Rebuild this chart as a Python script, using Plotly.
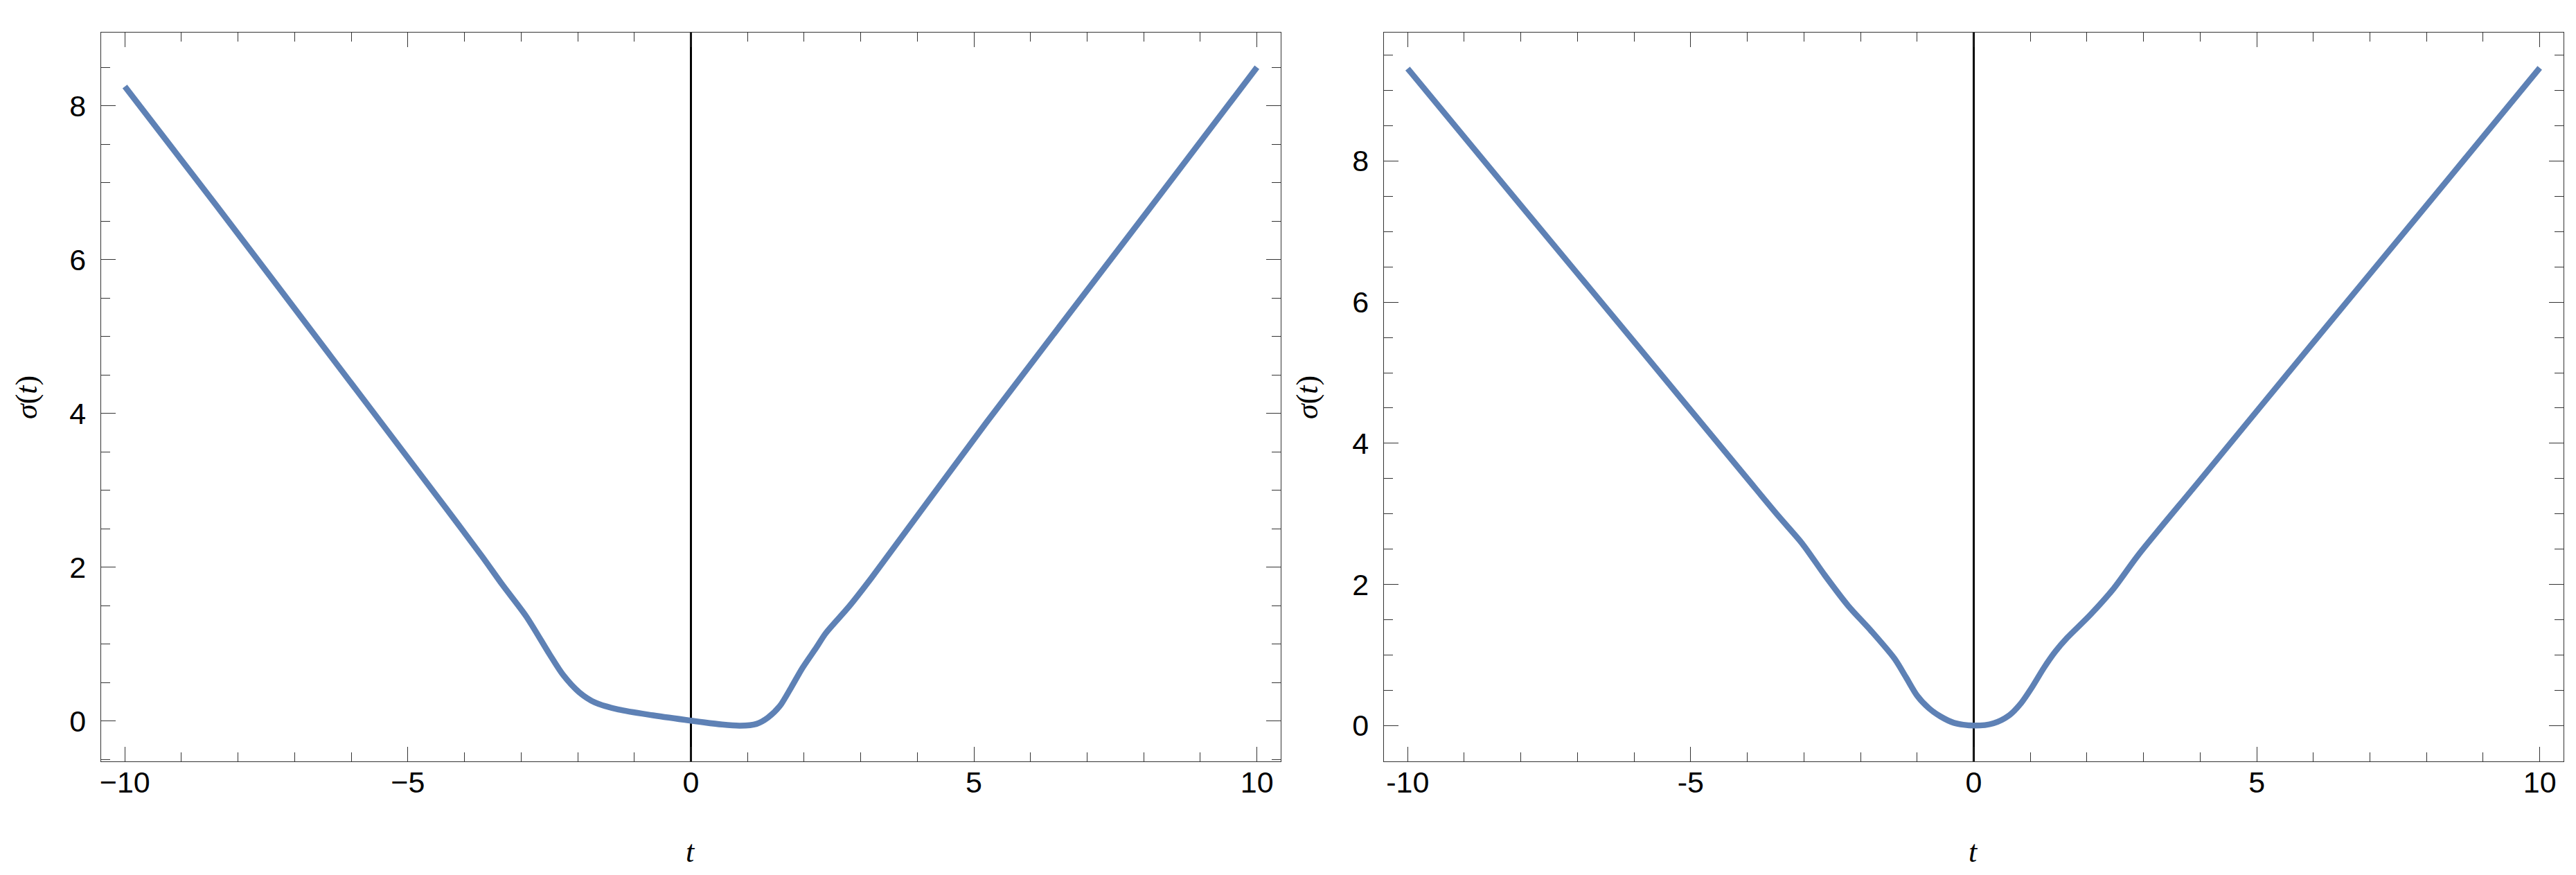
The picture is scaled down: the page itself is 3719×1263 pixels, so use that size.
import plotly.graph_objects as go

# left panel: sigma(t)
t_left = [-10.0, -8.39, -6.36, -4.33, -3.69, -3.33, -2.91, -2.50, -2.26, -1.97, -1.69,
          -1.28, -0.67, 0.0, 0.55, 0.87, 1.16, 1.36, 1.57, 1.77, 1.97, 2.22,
          2.38, 2.79, 3.19, 5.22, 8.07, 10.0]
sigma_left = [8.25, 6.71, 4.74, 2.77, 2.14, 1.77, 1.36, 0.87, 0.60, 0.37, 0.237,
              0.147, 0.072, 0.003, -0.048, -0.063, -0.039, 0.042, 0.192, 0.432, 0.687, 0.958,
              1.138, 1.484, 1.86, 3.88, 6.63, 8.50]

# right panel
t_right = [-10.0, -8.0, -6.0, -4.0, -3.44, -3.03, -2.63, -2.22, -1.81, -1.40, -1.20,
           -1.0, -0.79, -0.59, -0.35, 0.0, 0.35, 0.63, 0.83, 1.04, 1.24, 1.44, 1.65,
           2.06, 2.46, 2.91, 4.0, 6.0, 8.0, 10.0]
sigma_right = [9.31, 7.37, 5.44, 3.50, 2.96, 2.58, 2.13, 1.70, 1.34, 0.95, 0.69,
               0.425, 0.245, 0.131, 0.039, 0.0, 0.033, 0.147, 0.311, 0.556, 0.818, 1.047, 1.243,
               1.57, 1.93, 2.42, 3.48, 5.43, 7.37, 9.32]

x_ticks = [-10, -5, 0, 5, 10]
x_ticktext_right = ["-10", "-5", "0", "5", "10"]
y_ticks = [0, 2, 4, 6, 8]

W, H = 3719, 1263
line_color = "#5E81B5"
font_main = "Liberation Sans, Arial, sans-serif"

fig = go.Figure()
fig.add_trace(go.Scatter(x=t_left, y=sigma_left, mode="lines", xaxis="x", yaxis="y",
                         line=dict(color=line_color, width=8.5, shape="spline", smoothing=0.8),
                         showlegend=False))
fig.add_trace(go.Scatter(x=t_right, y=sigma_right, mode="lines", xaxis="x2", yaxis="y2",
                         line=dict(color=line_color, width=8.5, shape="spline", smoothing=0.8),
                         showlegend=False))


def frame_axis(**kw):
    d = dict(
        showline=True, linecolor="#333333", linewidth=1.3, mirror="ticks",
        ticks="inside", ticklen=21, tickwidth=1.3, tickcolor="#333333",
        showgrid=False, tickfont=dict(family=font_main, size=43, color="black"),
        minor=dict(ticks="inside", ticklen=13, tickwidth=1.3, tickcolor="#333333", showgrid=False),
    )
    d.update(kw)
    return d


y_dom = [1 - 1091 / H, 1 - 39 / H]
fig.update_layout(
    width=W, height=H,
    margin=dict(l=0, r=0, t=0, b=0),
    paper_bgcolor="white", plot_bgcolor="white",
    xaxis=frame_axis(domain=[136 / W, 1840 / W], range=[-10.42, 10.42], anchor="y",
                     tickvals=x_ticks, minor_dtick=1, ticklabelstandoff=-8,
                     zeroline=True, zerolinecolor="black", zerolinewidth=2.5),
    yaxis=frame_axis(domain=y_dom, range=[-0.527, 8.952], anchor="x",
                     tickvals=y_ticks, minor_dtick=0.5, ticklabelstandoff=12, zeroline=False),
    xaxis2=frame_axis(domain=[1989 / W, 3693 / W], range=[-10.42, 10.42], anchor="y2",
                      tickvals=x_ticks, ticktext=x_ticktext_right, minor_dtick=1,
                      ticklabelstandoff=-8,
                      zeroline=True, zerolinecolor="black", zerolinewidth=2.5),
    yaxis2=frame_axis(domain=y_dom, range=[-0.507, 9.82], anchor="x2",
                      tickvals=y_ticks, minor_dtick=0.5, ticklabelstandoff=12, zeroline=False),
)

title_font = dict(family="Liberation Serif, Times New Roman, serif", size=44, color="black")
for xc in [(136 + 1840) / 2 / W, (1989 + 3693) / 2 / W]:
    fig.add_annotation(x=xc, y=1 - 1221 / H, xref="paper", yref="paper", text="<i>t</i>",
                       xanchor="center", yanchor="middle",
                       showarrow=False, font=title_font)
for xc in [28 / W, 1878 / W]:
    fig.add_annotation(x=xc, y=1 - 565 / H, xref="paper", yref="paper",
                       text="<i>σ</i>(<i>t</i>)", textangle=-90,
                       xanchor="center", yanchor="middle",
                       showarrow=False, font=title_font)

fig.write_html("out.html")
